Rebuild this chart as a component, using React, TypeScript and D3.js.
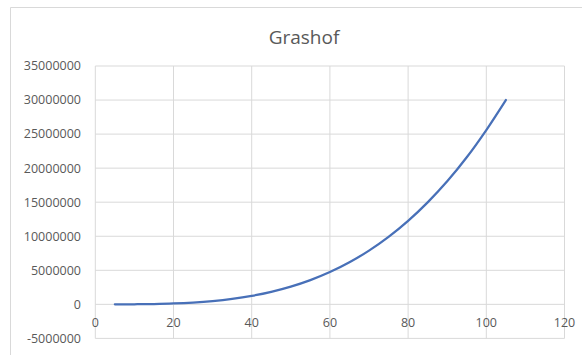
import React from "react";
import * as d3 from "d3";

// Grashof number against temperature difference
const xValues = [5, 10, 15, 20, 25, 30, 35, 40, 45, 50, 55, 60, 65, 70, 75, 80, 85, 90, 95, 100, 105];
const grashof = [
  1300, 12800, 49000, 126000, 264000, 481000, 801000, 1244000, 1837000, 2600000,
  3560000, 4740000, 6180000, 7890000, 9910000, 12260000, 14980000, 18070000,
  21600000, 25600000, 30000000,
];
const xTicks = [0, 20, 40, 60, 80, 100, 120];
const yTicks = [-5000000, 0, 5000000, 10000000, 15000000, 20000000, 25000000, 30000000, 35000000];
const title = "Grashof";

const W = 582;
const H = 355;
const font = "'Open Sans', 'Liberation Sans', sans-serif";
const textColor = "#595959";
const gridColor = "#d9d9d9";
const lineColor = "#4870b8";

export default function App() {
  const x = d3.scaleLinear().domain([0, 120]).range([95.3, 564.5]);
  const y = d3.scaleLinear().domain([-5000000, 35000000]).range([338.4, 66]);

  const line = d3
    .line<number>()
    .x((_, i) => x(xValues[i]))
    .y((d) => y(d))
    .curve(d3.curveCatmullRom.alpha(0.5));

  return (
    <svg
      width={W}
      height={H}
      style={{ position: "absolute", left: 0, top: 0, background: "#fff" }}
      fontFamily={font}
    >
      <rect x={0} y={0} width={W} height={H} fill="#fff" />
      {/* chart area border */}
      <path d={`M10.5,${H} V7.5 H${W}`} fill="none" stroke={gridColor} strokeWidth={1} />

      <text x={304} y={44} textAnchor="middle" fontSize={19} fill={textColor}>
        {title}
      </text>

      {/* gridlines */}
      {yTicks.map((t) => (
        <line key={`gy${t}`} x1={x(0)} x2={x(120)} y1={y(t)} y2={y(t)} stroke={gridColor} strokeWidth={1} />
      ))}
      {xTicks.map((t) => (
        <line key={`gx${t}`} x1={x(t)} x2={x(t)} y1={y(35000000)} y2={y(-5000000)} stroke={gridColor} strokeWidth={1} />
      ))}

      {/* y axis labels */}
      {yTicks.map((t) => (
        <text
          key={`ly${t}`}
          x={81}
          y={y(t)}
          dy="0.35em"
          textAnchor="end"
          fontSize={12.5}
          fill={textColor}
        >
          {t}
        </text>
      ))}

      {/* x axis labels beside the zero line */}
      {xTicks.map((t) => (
        <text
          key={`lx${t}`}
          x={x(t)}
          y={y(0) + 18}
          dy="0.35em"
          textAnchor="middle"
          fontSize={12.5}
          fill={textColor}
        >
          {t}
        </text>
      ))}

      <path d={line(grashof) ?? ""} fill="none" stroke={lineColor} strokeWidth={2.25} strokeLinecap="round" />
    </svg>
  );
}
